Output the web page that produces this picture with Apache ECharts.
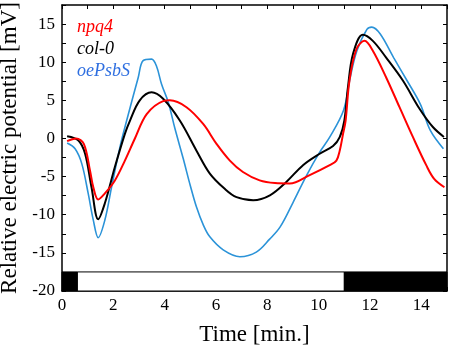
<!DOCTYPE html>
<html>
<head>
<meta charset="utf-8">
<script src="https://cdn.jsdelivr.net/npm/echarts@6/dist/echarts.min.js"></script>
<style>
  html, body { margin: 0; padding: 0; background: #fff; }
  #chart { width: 454px; height: 351px; }
</style>
</head>
<body>
<div id="chart"></div>
<script>
// time [min] / potential [mV]
var npq4 = [
  [0.2,-0.35],[0.55,0.0],[0.85,-0.7],[1.09,-4.2],[1.22,-6.4],[1.41,-8.0],[1.67,-7.2],
  [2.06,-5.5],[2.45,-2.9],[2.84,0.0],[3.3,3.2],[3.94,4.9],[4.2,5.0],[4.85,4.1],
  [5.5,1.9],[6.02,-0.7],[6.54,-2.9],[7.05,-4.4],[7.7,-5.5],[8.3,-5.85],[8.87,-5.9],
  [9.65,-4.8],[10.43,-3.5],[10.69,-2.9],[10.82,-1.6],[10.95,0.6],[11.05,2.35],
  [11.2,7.6],[11.47,11.7],[11.79,12.8],[12.11,11.5],[12.63,8.0],[13.15,4.1],
  [13.67,0.2],[14.19,-3.5],[14.5,-5.3],[14.9,-6.4]
];
var col0 = [
  [0.2,0.3],[0.64,-0.26],[0.9,-2.0],[1.15,-6.4],[1.41,-10.6],[1.67,-8.5],[2.06,-3.75],
  [2.45,0.6],[2.65,2.35],[3.03,5.0],[3.49,6.05],[3.94,5.2],[4.59,2.35],[5.24,-1.6],
  [5.76,-4.6],[6.34,-6.6],[6.8,-7.7],[7.45,-8.1],[8.1,-7.45],[8.74,-5.7],[9.39,-3.5],
  [10.04,-2.0],[10.56,-1.0],[10.82,0.17],[11.0,2.35],[11.14,6.7],[11.34,11.1],
  [11.72,13.6],[12.11,12.8],[12.63,10.6],[13.28,7.6],[13.93,3.9],[14.45,1.5],[14.88,0.2]
];
var oePsbS = [
  [0.2,-0.6],[0.51,-1.35],[0.77,-3.3],[1.02,-7.2],[1.22,-10.7],[1.41,-13.0],[1.67,-10.7],
  [1.93,-6.4],[2.26,-1.1],[2.52,2.35],[2.97,8.0],[3.16,10.2],[3.49,10.4],[3.68,9.5],
  [3.88,7.1],[4.14,4.75],[4.4,1.3],[4.72,-2.6],[5.0,-6.2],[5.24,-9.0],[5.5,-11.3],
  [5.76,-12.9],[6.28,-14.6],[6.93,-15.5],[7.57,-14.9],[8.09,-13.2],[8.5,-11.6],
  [9.0,-8.4],[9.52,-4.9],[10.04,-1.8],[10.43,0.17],[10.97,3.7],[11.23,8.0],[11.49,11.5],
  [11.88,14.3],[12.07,14.6],[12.4,13.7],[12.92,10.6],[13.44,7.6],[13.96,4.5],[14.35,1.05],
  [14.86,-1.35]
];

// light regime bar (dark / light / dark)
var lightStart = [0, 0.6, 11.0];
var lightEnd = [0.6, 11.0, 15];
var lightOn = [false, true, false];

var xTicks = [0, 2, 4, 6, 8, 10, 12, 14];
var yTicks = [-20, -15, -10, -5, 0, 5, 10, 15];

var FONT = 'Liberation Serif';

var myChart = echarts.init(document.getElementById('chart'), null, { renderer: 'canvas' });

var lineSty = { color: '#000', width: 1.5 };
var tickSty = { show: true, inside: true, length: 4, lineStyle: { color: '#000', width: 1 } };

// 光照条
var band = lightStart.map(function (s, i) {
  return [
    { xAxis: s, yAxis: -20, itemStyle: { color: lightOn[i] ? '#fff' : '#000' } },
    { xAxis: lightEnd[i], yAxis: -17.5 }
  ];
});

myChart.setOption({
  animation: false,
  backgroundColor: '#fff',
  grid: { left: 62, right: 7, top: 5, bottom: 60, outerBoundsMode: 'none' },
  legend: {
    orient: 'vertical',
    left: 67,
    top: 13,
    icon: 'none',
    itemWidth: 0,
    itemHeight: 14,
    itemGap: 4,
    selectedMode: false,
    textStyle: { fontFamily: FONT, fontSize: 18, fontStyle: 'italic' },
    data: [
      { name: 'npq4', textStyle: { color: '#ff0000' } },
      { name: 'col-0', textStyle: { color: '#000000' } },
      { name: 'oePsbS', textStyle: { color: '#2f6fe0' } }
    ]
  },
  xAxis: [{
    type: 'value', min: 0, max: 15, interval: 1,
    name: 'Time [min.]', nameLocation: 'middle', nameGap: 32,
    nameTextStyle: { fontFamily: FONT, fontSize: 23, color: '#000' },
    axisLine: { show: true, onZero: false, lineStyle: lineSty },
    axisTick: tickSty,
    splitLine: { show: false },
    axisLabel: {
      margin: 6, fontFamily: FONT, fontSize: 17, color: '#000',
      formatter: function (v) { return xTicks.indexOf(v) >= 0 ? String(v) : ''; }
    }
  }, {
    type: 'value', position: 'top', min: 0, max: 15, interval: 1,
    axisLine: { show: true, onZero: false, lineStyle: lineSty },
    axisTick: tickSty, axisLabel: { show: false }, splitLine: { show: false }
  }],
  yAxis: [{
    type: 'value', min: -20, max: 17.5, interval: 2.5,
    name: 'Relative electric potential [mV]', nameLocation: 'middle', nameGap: 38,
    nameTextStyle: { fontFamily: FONT, fontSize: 23, color: '#000' },
    axisLine: { show: true, onZero: false, lineStyle: lineSty },
    axisTick: tickSty,
    splitLine: { show: false },
    axisLabel: {
      margin: 7, fontFamily: FONT, fontSize: 17, color: '#000',
      formatter: function (v) { return yTicks.indexOf(v) >= 0 ? String(v) : ''; }
    }
  }, {
    type: 'value', position: 'right', min: -20, max: 17.5, interval: 2.5,
    axisLine: { show: true, onZero: false, lineStyle: lineSty },
    axisTick: tickSty, axisLabel: { show: false }, splitLine: { show: false }
  }],
  series: [
    {
      name: 'oePsbS', type: 'line', data: oePsbS, smooth: 0.35, showSymbol: false,
      lineStyle: { color: '#2b93d8', width: 1.6 }, itemStyle: { color: '#2b93d8' },
      markArea: {
        silent: true,
        itemStyle: { borderColor: '#000', borderWidth: 1 },
        data: band
      }
    },
    {
      name: 'col-0', type: 'line', data: col0, smooth: 0.35, showSymbol: false,
      lineStyle: { color: '#000', width: 2 }, itemStyle: { color: '#000' }
    },
    {
      name: 'npq4', type: 'line', data: npq4, smooth: 0.35, showSymbol: false,
      lineStyle: { color: '#ff0000', width: 2 }, itemStyle: { color: '#ff0000' }
    }
  ]
});

window.onresize = function () {
  myChart.resize();
};
</script>
</body>
</html>
